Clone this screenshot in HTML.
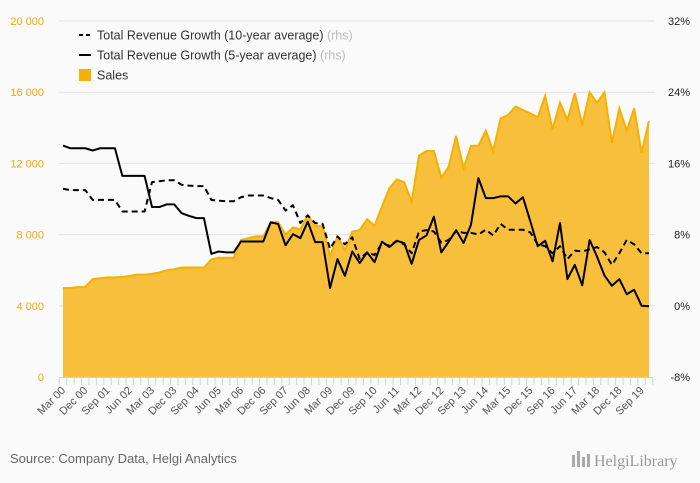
<!DOCTYPE html>
<html><head><meta charset="utf-8"><style>
body{margin:0;background:#fafafa;font-family:"Liberation Sans",sans-serif;}
svg{display:block}
</style></head><body>
<svg id="chart" width="700" height="483" viewBox="0 0 700 483">
<rect width="700" height="483" fill="#fafafa"/>
<g id="grid"></g>
<g id="area"></g>
<g id="lines"></g>
<g id="yleft"></g>
<g id="yright"></g>
<g id="xaxis"></g>
<g font-size="12.5" fill="#333">
 <g>
  <line x1="79" y1="35" x2="91" y2="35" stroke="#000" stroke-width="2" stroke-dasharray="4,3"/>
  <text x="97" y="39.5">Total Revenue Growth (10-year average) <tspan fill="#bbb">(rhs)</tspan></text>
 </g>
 <g>
  <line x1="79" y1="55" x2="91" y2="55" stroke="#000" stroke-width="2"/>
  <text x="97" y="59.5">Total Revenue Growth (5-year average) <tspan fill="#bbb">(rhs)</tspan></text>
 </g>
 <g>
  <rect x="79" y="69" width="12" height="12" fill="#f5b000"/>
  <text x="97" y="79.5">Sales</text>
 </g>
</g>
<text x="10" y="463" font-size="13" fill="#666">Source: Company Data, Helgi Analytics</text>
<g>
 <rect x="572" y="455" width="3" height="12" fill="#aaa"/><rect x="577" y="451" width="3" height="16" fill="#aaa"/><rect x="582" y="457" width="3" height="10" fill="#aaa"/><rect x="587" y="454" width="3" height="13" fill="#aaa"/>
 <text x="594" y="466" font-size="16" fill="#999" font-family="Liberation Serif, serif">HelgiLibrary</text>
</g>
</svg>
<script>
const labels=["Mar 00","Dec 00","Sep 01","Jun 02","Mar 03","Dec 03","Sep 04","Jun 05","Mar 06","Dec 06","Sep 07","Jun 08","Mar 09","Dec 09","Sep 10","Jun 11","Mar 12","Dec 12","Sep 13","Jun 14","Mar 15","Dec 15","Sep 16","Jun 17","Mar 18","Dec 18","Sep 19"];
const sales=[5000,5000,5050,5050,5500,5550,5600,5600,5620,5680,5750,5750,5800,5870,6000,6050,6150,6150,6150,6150,6600,6700,6700,6700,7700,7800,7900,7900,8700,8700,8000,8400,8300,9100,8500,8450,6800,7880,7130,8170,8260,8860,8500,9570,10600,11100,10940,9850,12430,12700,12700,11200,11820,13540,11720,12980,13000,13840,12700,14530,14720,15190,15000,14810,14590,15790,13910,15410,14440,15940,14160,15990,15410,15990,13160,15090,13840,15090,12600,14380];
const growth5=[18.0,17.7,17.7,17.7,17.45,17.7,17.7,17.7,14.6,14.6,14.6,14.6,11.1,11.1,11.4,11.4,10.4,10.1,9.85,9.85,5.84,6.1,6.0,6.0,7.23,7.23,7.23,7.23,9.37,9.2,6.8,8.05,7.6,9.45,7.15,7.15,2.0,5.25,3.37,6.1,4.8,6.0,4.9,7.2,6.6,7.3,7.05,4.7,7.4,7.9,10.0,6.0,7.2,8.5,7.05,9.1,14.35,12.1,12.1,12.3,12.3,11.5,12.2,9.5,6.7,7.3,5.0,9.3,3.0,4.6,2.3,7.4,5.5,3.4,2.25,3.0,1.3,1.8,0.0,-0.05];
const growth10=[13.15,13.0,13.0,13.0,11.9,11.9,11.9,11.9,10.6,10.6,10.6,10.6,13.9,14.0,14.1,14.1,13.6,13.5,13.45,13.45,11.9,11.8,11.75,11.75,12.2,12.4,12.4,12.4,12.1,11.9,10.7,11.3,9.3,10.15,9.3,9.2,6.4,7.8,6.9,7.7,5.25,6.0,5.7,7.05,6.75,7.3,6.9,5.9,8.35,8.5,8.35,7.1,7.4,8.4,8.2,8.2,8.0,8.55,7.9,9.2,8.55,8.55,8.55,8.25,6.9,6.7,5.9,6.7,5.25,6.2,6.1,6.35,6.6,6.0,4.6,5.9,7.4,6.9,5.9,5.9];
const leftTicks=[0,4000,8000,12000,16000,20000];
const rightTicks=[-8,0,8,16,24,32];
const NS="http://www.w3.org/2000/svg";
const X0=63,X1=649,YT=21,YB=377;
const n=sales.length;
const xs=i=>X0+(X1-X0)*i/(n-1);
const yl=v=>YB-(v/20000)*(YB-YT);
const yr=v=>YB-((v+8)/40)*(YB-YT);
function mk(tag,attrs,parent){const e=document.createElementNS(NS,tag);for(const k in attrs)e.setAttribute(k,attrs[k]);parent.appendChild(e);return e;}
const grid=document.getElementById('grid'),yL=document.getElementById('yleft'),yR=document.getElementById('yright');
leftTicks.forEach((t,i)=>{
 const y=yl(t);
 if(t>0){const g=mk('line',{x1:59,x2:655,y1:y,y2:y,stroke:'#e2e2e2','stroke-width':1},grid);
 
 }
 const tx=mk('text',{x:44,y:y+4,'text-anchor':'end','font-size':11,fill:'#f5a800'},yL);
 
 
 tx.textContent=t===0?'0':(t/1000)+' 000';
});
rightTicks.forEach(t=>{
 const tx=mk('text',{x:690,y:yr(t)+4,'text-anchor':'end','font-size':11,fill:'#222'},yR);
 
 
 tx.textContent=t+'%';
});
// area
let d='M'+xs(0)+','+YB;
sales.forEach((v,i)=>{d+=' L'+xs(i).toFixed(2)+','+yl(v).toFixed(2);});
d+=' L'+xs(n-1)+','+YB+' Z';
const ar=mk('path',{d:d,fill:'#f7bf3c'},document.getElementById('area'));


let dl='';sales.forEach((v,i)=>{dl+=(i?' L':'M')+xs(i).toFixed(2)+','+yl(v).toFixed(2);});
const sl=mk('path',{d:dl,fill:'none',stroke:'#f5b000','stroke-width':2},document.getElementById('area'));


function line(arr,dash,name){let p='';arr.forEach((v,i)=>{p+=(i?' L':'M')+xs(i).toFixed(2)+','+yr(v).toFixed(2);});
 const a={d:p,fill:'none',stroke:'#000','stroke-width':2,'stroke-linejoin':'round'};if(dash)a['stroke-dasharray']='6,4';
 const e=mk('path',a,document.getElementById('lines'));
 
 }
line(growth10,true,'growth-10y-line');
line(growth5,false,'growth-5y-line');
// x axis
const xa=document.getElementById('xaxis');
const step=(X1-X0)/(n-1);
mk('line',{x1:X0-step/2,x2:X1+step/2,y1:YB+0.5,y2:YB+0.5,stroke:'#c8d3ea','stroke-width':1},xa);
for(let i=0;i<=n;i++){const x=X0-step/2+i*step;mk('line',{x1:x,x2:x,y1:YB,y2:YB+8,stroke:'#c8d3ea','stroke-width':1},xa);}
labels.forEach((l,k)=>{const x=xs(k*3)+3,y=YB+14;
 const t=mk('text',{x:x,y:y,'text-anchor':'end','font-size':11,fill:'#555',transform:'rotate(-45 '+x+' '+y+')'},xa);
 
 
 t.textContent=l;});
</script>
</body></html>
